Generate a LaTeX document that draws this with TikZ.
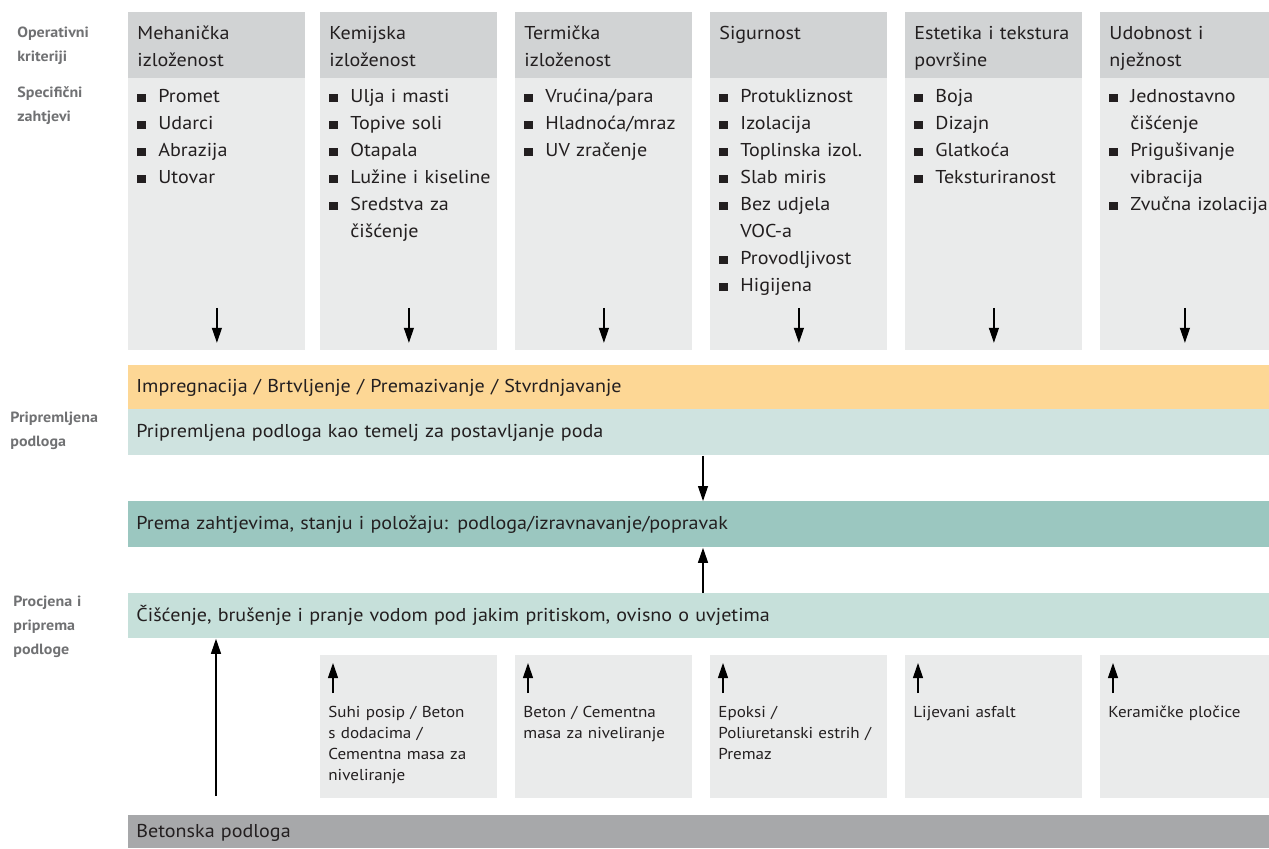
\documentclass[tikz,border=0pt]{standalone}
\usepackage{fontspec}
\setmainfont[FakeStretch=1.08]{PT Sans}
\usetikzlibrary{positioning, arrows.meta}

\definecolor{headgray}{HTML}{D1D3D4}
\definecolor{bodygray}{HTML}{EAEBEB}
\definecolor{labelgray}{HTML}{707173}
\definecolor{orangebar}{HTML}{FDD795}
\definecolor{tealbar}{HTML}{CFE3E0}
\definecolor{darkteal}{HTML}{9BC7C0}
\definecolor{cleanbar}{HTML}{C6E0DA}
\definecolor{basebar}{HTML}{A7A8AA}
\definecolor{ink}{HTML}{231F20}

\newcommand{\bul}{\makebox[10.5pt][l]{\rule{4.2pt}{4.2pt}}}
\newcommand{\ind}{\hspace*{10.5pt}}

\tikzset{
  head/.style={fill=headgray, minimum width=88.5pt, minimum height=33pt, anchor=north west, inner sep=0pt},
  body/.style={fill=bodygray, minimum width=88.5pt, minimum height=136pt, anchor=north west, inner sep=0pt},
  lowbox/.style={fill=bodygray, minimum width=88.5pt, minimum height=71.5pt, anchor=north west, inner sep=0pt},
  coltext/.style={anchor=base west, inner sep=0pt, text width=88pt, align=left, text=ink, font=\fontsize{9.3}{13.5}\selectfont},
  lowtext/.style={anchor=base west, inner sep=0pt, text width=88pt, align=left, text=ink, font=\fontsize{7.9}{10.6}\selectfont},
  bar/.style={anchor=north west, inner xsep=4pt, inner ysep=0pt, text width=562.5pt, align=left, text=ink, font=\fontsize{9.3}{13.5}\selectfont\strut},
  sidelabel/.style={anchor=base west, inner sep=0pt, text width=60pt, align=left, text=labelgray, font=\fontsize{7.4}{12}\selectfont\bfseries},
  arr/.style={-{Triangle[length=7.5pt, width=5pt]}, line width=0.6pt, draw=black}
}

\begin{document}
\begin{tikzpicture}[x=0.5pt, y=-0.5pt]
\useasboundingbox (0,0) rectangle (1269,848);

% side labels
\node[sidelabel] (opk) at (17,37.5) {Operativni\\kriteriji};
\node[sidelabel] (spz) at (17,97.5) {Specifični\\zahtjevi};
\node[sidelabel] (ppl) at (10,422.5) {Pripremljena\\podloga};
\node[sidelabel] (ppp) at (13,606.5) {Procjena i\\priprema\\podloge};

% criteria columns
\node[head] (h1) at (128,12) {};
\node[body] (b1) at (128,78) {};
\node[coltext] at ([xshift=4.5pt, yshift=-13.5pt]h1.north west) {Mehanička\\izloženost};
\node[coltext] at ([xshift=4.5pt, yshift=-12pt]b1.north west) {\bul Promet\\\bul Udarci\\\bul Abrazija\\\bul Utovar};

\node[head] (h2) at (320,12) {};
\node[body] (b2) at (320,78) {};
\node[coltext] at ([xshift=4.5pt, yshift=-13.5pt]h2.north west) {Kemijska\\izloženost};
\node[coltext] at ([xshift=4.5pt, yshift=-12pt]b2.north west) {\bul Ulja i masti\\\bul Topive soli\\\bul Otapala\\\bul Lužine i kiseline\\\bul Sredstva za\\\ind čišćenje};

\node[head] (h3) at (515,12) {};
\node[body] (b3) at (515,78) {};
\node[coltext] at ([xshift=4.5pt, yshift=-13.5pt]h3.north west) {Termička\\izloženost};
\node[coltext] at ([xshift=4.5pt, yshift=-12pt]b3.north west) {\bul Vrućina/para\\\bul Hladnoća/mraz\\\bul UV zračenje};

\node[head] (h4) at (710,12) {};
\node[body] (b4) at (710,78) {};
\node[coltext] at ([xshift=4.5pt, yshift=-13.5pt]h4.north west) {Sigurnost};
\node[coltext] at ([xshift=4.5pt, yshift=-12pt]b4.north west) {\bul Protukliznost\\\bul Izolacija\\\bul Toplinska izol.\\\bul Slab miris\\\bul Bez udjela\\\ind VOC-a\\\bul Provodljivost\\\bul Higijena};

\node[head] (h5) at (905,12) {};
\node[body] (b5) at (905,78) {};
\node[coltext] at ([xshift=4.5pt, yshift=-13.5pt]h5.north west) {Estetika i tekstura\\površine};
\node[coltext] at ([xshift=4.5pt, yshift=-12pt]b5.north west) {\bul Boja\\\bul Dizajn\\\bul Glatkoća\\\bul Teksturiranost};

\node[head, minimum width=84.5pt] (h6) at (1100,12) {};
\node[body, minimum width=84.5pt] (b6) at (1100,78) {};
\node[coltext] at ([xshift=4.5pt, yshift=-13.5pt]h6.north west) {Udobnost i\\nježnost};
\node[coltext] at ([xshift=4.5pt, yshift=-12pt]b6.north west) {\bul Jednostavno\\\ind čišćenje\\\bul Prigušivanje\\\ind vibracija\\\bul Zvučna izolacija};

\draw[arr] ([yshift=21.5pt]b1.south) -- ([yshift=4pt]b1.south);
\draw[arr] ([yshift=21.5pt]b2.south) -- ([yshift=4pt]b2.south);
\draw[arr] ([yshift=21.5pt]b3.south) -- ([yshift=4pt]b3.south);
\draw[arr] ([yshift=21.5pt]b4.south) -- ([yshift=4pt]b4.south);
\draw[arr] ([yshift=21.5pt]b5.south) -- ([yshift=4pt]b5.south);
\draw[arr] ([yshift=21.5pt]b6.south) -- ([yshift=4pt]b6.south);

% horizontal bars
\node[bar, fill=orangebar, minimum height=22pt] (seal) at (128,365) {Impregnacija / Brtvljenje / Premazivanje / Stvrdnjavanje};
\node[bar, fill=tealbar, minimum height=23pt] (prep) at (128,409) {Pripremljena podloga kao temelj za postavljanje poda};
\node[bar, fill=darkteal, minimum height=23pt] (lev) at (128,501) {Prema zahtjevima, stanju i položaju: podloga/izravnavanje/popravak};
\node[bar, fill=cleanbar, minimum height=22.5pt] (clean) at (128,593) {Čišćenje, brušenje i pranje vodom pod jakim pritiskom, ovisno o uvjetima};
\node[bar, fill=basebar, minimum height=16.5pt] (base) at (128,815) {Betonska podloga};

\coordinate (mid) at (703,0);
\draw[arr] (prep.south -| mid) -- (lev.north -| mid);
\draw[arr] (clean.north -| mid) -- (lev.south -| mid);

\coordinate (foot) at (216,796);
\draw[arr] (foot) -- (clean.south -| foot);

% floor finishes
\node[lowbox] (f1) at (320,655) {};
\node[lowtext] at ([xshift=4pt, yshift=-31pt]f1.north west) {Suhi posip / Beton\\s dodacima /\\Cementna masa za\\niveliranje};
\node[lowbox] (f2) at (515,655) {};
\node[lowtext] at ([xshift=4pt, yshift=-31pt]f2.north west) {Beton / Cementna\\masa za niveliranje};
\node[lowbox] (f3) at (710,655) {};
\node[lowtext] at ([xshift=4pt, yshift=-31pt]f3.north west) {Epoksi /\\Poliuretanski estrih /\\Premaz};
\node[lowbox] (f4) at (905,655) {};
\node[lowtext] at ([xshift=4pt, yshift=-31pt]f4.north west) {Lijevani asfalt};
\node[lowbox, minimum width=84.5pt] (f5) at (1100,655) {};
\node[lowtext] at ([xshift=4pt, yshift=-31pt]f5.north west) {Keramičke pločice};

\draw[arr] ([xshift=6.5pt, yshift=-19pt]f1.north west) -- ([xshift=6.5pt, yshift=-4pt]f1.north west);
\draw[arr] ([xshift=6.5pt, yshift=-19pt]f2.north west) -- ([xshift=6.5pt, yshift=-4pt]f2.north west);
\draw[arr] ([xshift=6.5pt, yshift=-19pt]f3.north west) -- ([xshift=6.5pt, yshift=-4pt]f3.north west);
\draw[arr] ([xshift=6.5pt, yshift=-19pt]f4.north west) -- ([xshift=6.5pt, yshift=-4pt]f4.north west);
\draw[arr] ([xshift=6.5pt, yshift=-19pt]f5.north west) -- ([xshift=6.5pt, yshift=-4pt]f5.north west);
\end{tikzpicture}
\end{document}
